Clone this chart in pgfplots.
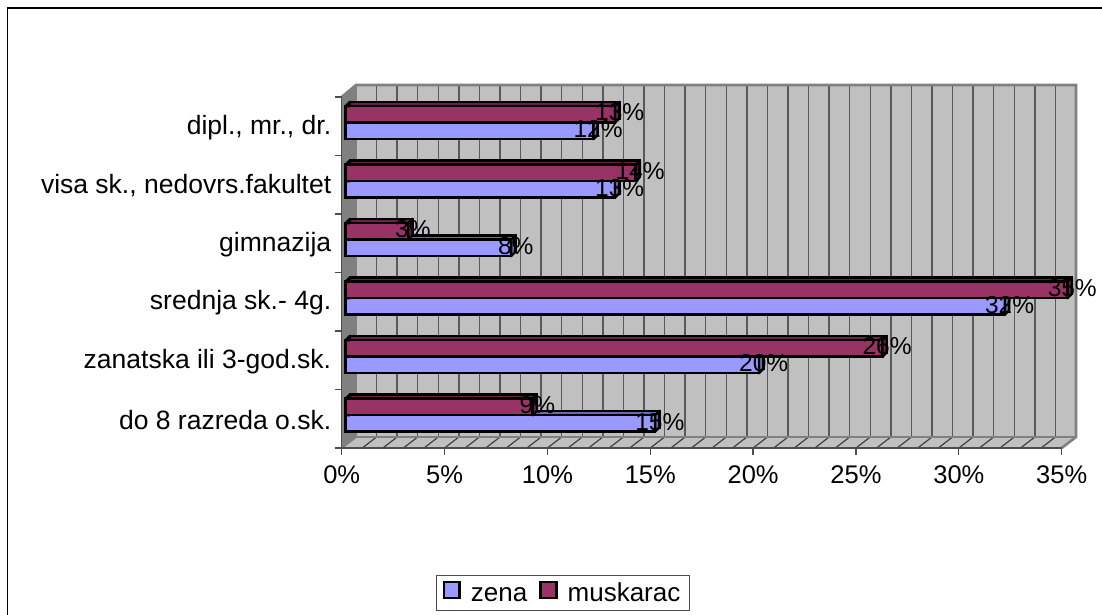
\documentclass[border=0pt]{standalone}
\usepackage{pgfplots}
\usepackage{pgfplotstable}
\usepackage{fontspec}
\setmainfont{Liberation Sans}
\pgfplotsset{compat=1.18}

\definecolor{zenaC}{HTML}{9999FF}
\definecolor{zenaD}{HTML}{6B6BB3}
\definecolor{muskC}{HTML}{993366}
\definecolor{muskD}{HTML}{6B2447}
\definecolor{wall}{HTML}{C0C0C0}
\definecolor{wallEdge}{HTML}{808080}

% y is the category centre, base is the bar start
\pgfplotstableread{
y   base zena  muskarac
0.5 0    15.05 9.1
1.5 0    20.1  26.1
2.5 0    32.05 35.1
3.5 0    8.05  3.05
4.5 0    13.1  14.1
5.5 0    12.05 13.1
}\edu

% right end of a 3d bar
\pgfdeclareplotmark{depth}{%
  \pgfpathmoveto{\pgfqpoint{0pt}{-8.25pt}}%
  \pgfpathlineto{\pgfqpoint{4.3pt}{-3.95pt}}%
  \pgfpathlineto{\pgfqpoint{4.3pt}{12.55pt}}%
  \pgfpathlineto{\pgfqpoint{0pt}{8.25pt}}%
  \pgfpathclose
  \pgfusepathqfillstroke
}
% left end, only the corner above the front face shows
\pgfdeclareplotmark{corner}{%
  \pgfpathmoveto{\pgfqpoint{0pt}{8.25pt}}%
  \pgfpathlineto{\pgfqpoint{4.3pt}{12.55pt}}%
  \pgfpathlineto{\pgfqpoint{4.3pt}{8.25pt}}%
  \pgfpathclose
  \pgfusepathqfillstroke
}

\pgfplotsset{
  frame3d/.style={
    at={(341.7pt,167pt)}, anchor=origin,
    scale only axis, width=720pt, height=351pt,
    xmin=0, xmax=35, ymin=0, ymax=6, clip=false,
  },
  bar3d/.style={xbar, bar width=16.5pt, bar shift=0pt, draw=black,
    line width=2.6pt, forget plot},
  end3d/.style 2 args={only marks, mark=#1, forget plot,
    mark options={draw=black, fill=#2, line width=2.4pt, line join=round}},
  lab3d/.style={only marks, mark=none, forget plot, point meta=x,
    nodes near coords={\pgfmathprintnumber[fixed,precision=0]{\pgfplotspointmeta}\%},
    every node near coord/.append style={anchor=center, inner sep=0pt,
      font=\fontsize{24.5}{28}\selectfont, /pgf/number format/assume math mode=true}},
}

\begin{document}
\begin{tikzpicture}[x=1pt,y=1pt]
\path[use as bounding box] (0,0) rectangle (1102,615);
\draw[black, line width=1.2pt] (7.5,-5) -- (7.5,607) -- (1103,607);

% walls and floor of the chart box
\fill[wallEdge] (341.7,167) -- (356,178) -- (356,530) -- (341.7,518) -- cycle;
\fill[wall] (356,178) rectangle (1076,530);
\fill[wall] (341.7,167) -- (356,178) -- (1076,178) -- (1061.7,167) -- cycle;
\foreach \k in {1,...,34} {
  \draw[black!65, line width=1.3pt] ({356+\k*20.571},178) -- ({356+\k*20.571},530);
  \draw[black!75, line width=1.2pt] ({341.7+\k*20.571},167) -- ({356+\k*20.571},178);
}
\draw[wallEdge, line width=2.6pt] (341.7,518) -- (356,530) -- (1076,530) -- (1076,178) -- (1061.7,167);
\draw[wallEdge, line width=2.6pt] (356,530) -- (356,178) -- (1076,178);
\draw[wallEdge, line width=2pt] (356,178) -- (341.7,167);

% zena, with the axis lines and tick labels
\begin{axis}[frame3d,
  xtick={0,5,...,35},
  xticklabel={\pgfmathprintnumber{\tick}\%},
  ytick={0,...,6},
  y tick label as interval,
  yticklabels={do 8 razreda o.sk.,zanatska ili 3-god.sk.,srednja sk.- 4g.,gimnazija,{visa sk., nedovrs.fakultet},{dipl., mr., dr.}},
  axis lines*=left,
  axis line style={draw=black!70, line width=1.5pt, -},
  tick style={draw=black!70, line width=1.3pt},
  tick align=outside, major tick length=7pt,
  ticklabel style={font=\fontsize{26.5}{30}\selectfont},
  xticklabel style={yshift=-7pt, font=\fontsize{25.5}{30}\selectfont},
  yticklabel style={yshift=-1pt},
  /pgf/number format/assume math mode=true,
]
\addplot[bar3d, fill=zenaD, xshift=8.1pt, yshift=-0.4pt] table[x=zena,y=y] {\edu};
\addplot[bar3d, fill=zenaC, xshift=3.8pt, yshift=-4.7pt] table[x=zena,y=y] {\edu};
\addplot[end3d={corner}{zenaD}, xshift=3.8pt, yshift=-4.7pt] table[x=base,y=y] {\edu};
\addplot[end3d={depth}{zenaD}, xshift=3.8pt, yshift=-4.7pt] table[x=zena,y=y] {\edu};
\end{axis}

% muskarac, in a second axis so that it lies over the zena bars
\begin{axis}[frame3d, hide axis]
\addplot[bar3d, fill=muskD, xshift=8.1pt, yshift=16.1pt] table[x=muskarac,y=y] {\edu};
\addplot[bar3d, fill=muskC, xshift=3.8pt, yshift=11.8pt] table[x=muskarac,y=y] {\edu};
\addplot[end3d={corner}{muskD}, xshift=3.8pt, yshift=11.8pt] table[x=base,y=y] {\edu};
\addplot[end3d={depth}{muskD}, xshift=3.8pt, yshift=11.8pt] table[x=muskarac,y=y] {\edu};
\end{axis}

% data labels and legend on top of everything
\begin{axis}[frame3d, hide axis,
  legend image code/.code={\draw[#1, line width=2.6pt] (0pt,-5.5pt) rectangle (15.7pt,10.5pt);},
  legend style={at={(0.3074,-0.4117)}, anchor=center, legend columns=2,
    draw=black!70, line width=1pt, inner xsep=6pt, inner ysep=5.5pt,
    font=\fontsize{26}{30}\selectfont,
    nodes={inner xsep=3pt, inner ysep=2pt, text height=19pt, text depth=1pt},
    /tikz/every odd column/.style={column sep=7pt},
    /tikz/every even column/.style={column sep=9pt}},
]
\addplot[lab3d, xshift=8.5pt, yshift=-3pt] table[x=zena,y=y] {\edu};
\addplot[lab3d, xshift=8.5pt, yshift=14pt] table[x=muskarac,y=y] {\edu};
\addlegendimage{draw=black, fill=zenaC}
\addlegendentry{zena}
\addlegendimage{draw=black, fill=muskC}
\addlegendentry{muskarac}
\end{axis}
\end{tikzpicture}
\end{document}
